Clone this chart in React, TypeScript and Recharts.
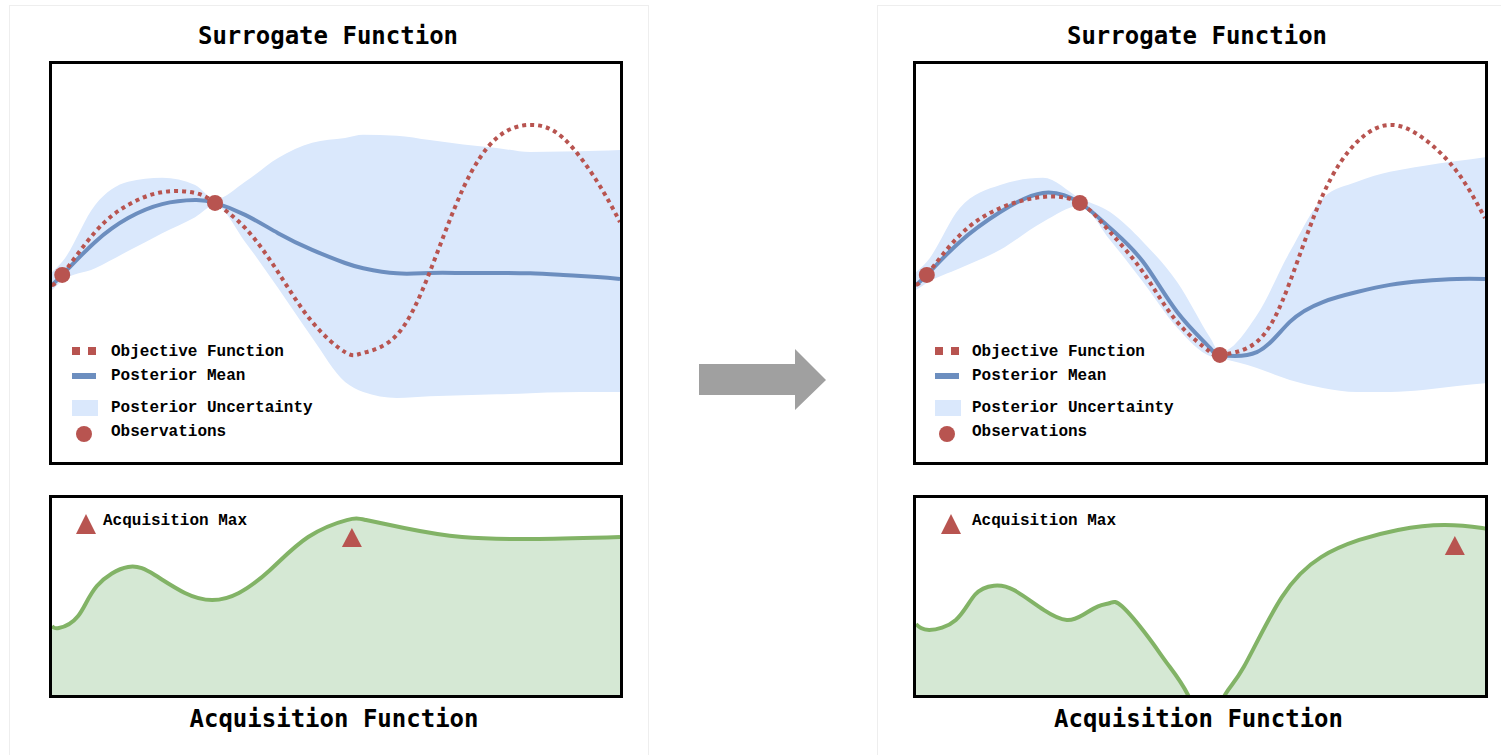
import { Area, ComposedChart, Line, Scatter, XAxis, YAxis } from "recharts";

// x runs 0..10 across each box, y runs 0..10 bottom to top

// before: 2 observations
const BEFORE_X = [0, 0.18, 0.76, 1.34, 1.94, 2.52, 2.87, 3.4, 3.98, 4.58, 5.16, 5.48, 6.07, 6.65, 7.24, 7.83, 8.42, 9.0, 9.6, 10];
const BEFORE_OBJECTIVE = [4.45, 4.7, 5.78, 6.46, 6.78, 6.76, 6.51, 5.88, 4.77, 3.52, 2.76, 2.74, 3.19, 4.77, 6.88, 8.14, 8.47, 8.14, 7.04, 6.03];
const BEFORE_MEAN = [4.45, 4.7, 5.53, 6.13, 6.48, 6.58, 6.51, 6.21, 5.75, 5.33, 5.0, 4.87, 4.74, 4.75, 4.75, 4.75, 4.74, 4.7, 4.65, 4.6];
const BEFORE_UPPER = [4.77, 5.03, 6.46, 7.04, 7.14, 6.96, 6.6, 7.04, 7.64, 8.02, 8.14, 8.22, 8.2, 8.09, 7.98, 7.89, 7.79, 7.8, 7.82, 7.84];
const BEFORE_LOWER = [4.32, 4.55, 4.87, 5.3, 5.75, 6.15, 6.45, 5.53, 4.37, 3.12, 2.01, 1.76, 1.61, 1.65, 1.68, 1.7, 1.73, 1.75, 1.76, 1.76];
const BEFORE_OBS_X = [0.18, 2.87];
const BEFORE_OBS_Y = [4.7, 6.51];
const BEFORE_ACQ_X = [0, 0.12, 0.46, 0.79, 1.34, 1.81, 2.34, 2.82, 3.29, 3.84, 4.51, 5.19, 5.53, 6.2, 7.22, 8.57, 10];
const BEFORE_ACQ = [3.5, 3.4, 4.01, 5.53, 6.5, 6.09, 5.18, 4.82, 5.18, 6.35, 8.02, 8.88, 8.88, 8.48, 8.02, 7.92, 8.02];
const BEFORE_MAX_X = [5.28];
const BEFORE_MAX_Y = [7.97];

// after: 3 observations
const AFTER_X = [0, 0.19, 0.77, 1.48, 2.23, 2.88, 3.41, 3.99, 4.59, 5.17, 5.34, 5.99, 6.57, 7.15, 7.75, 8.33, 8.91, 9.51, 10];
const AFTER_OBJECTIVE = [4.45, 4.7, 5.7, 6.38, 6.66, 6.51, 5.78, 4.77, 3.52, 2.76, 2.69, 3.02, 4.52, 6.71, 8.04, 8.47, 8.14, 7.29, 6.13];
const AFTER_MEAN = [4.45, 4.7, 5.53, 6.28, 6.76, 6.51, 5.88, 5.03, 3.77, 2.86, 2.69, 2.76, 3.52, 4.02, 4.27, 4.45, 4.55, 4.6, 4.6];
const AFTER_UPPER = [4.77, 5.03, 6.38, 6.96, 7.14, 6.63, 6.28, 5.53, 4.52, 3.12, 2.76, 3.69, 5.28, 6.63, 7.04, 7.29, 7.44, 7.56, 7.66];
const AFTER_LOWER = [4.32, 4.5, 4.87, 5.33, 6.03, 6.43, 5.58, 4.52, 3.37, 2.66, 2.61, 2.36, 2.06, 1.86, 1.76, 1.76, 1.81, 1.91, 1.98];
const AFTER_OBS_X = [0.19, 2.88, 5.34];
const AFTER_OBS_Y = [4.7, 6.51, 2.69];
const AFTER_ACQ_X = [0, 0.23, 0.7, 1.04, 1.37, 1.72, 2.25, 2.65, 2.93, 3.2, 3.41, 3.62, 4.08, 4.41, 4.78, 5.1, 5.43, 5.76, 6.43, 7.12, 7.79, 8.47, 9.28, 9.95, 10];
const AFTER_ACQ = [3.6, 3.3, 3.81, 5.1, 5.55, 5.33, 4.31, 3.81, 4.06, 4.5, 4.67, 4.5, 2.94, 1.62, 0, -1.5, 0, 1.42, 4.97, 7.0, 7.87, 8.38, 8.63, 8.48, 8.43];
const AFTER_MAX_X = [9.47];
const AFTER_MAX_Y = [7.56];

const RED = "#b85450";
const BLUE = "#6c8ebf";
const BAND = "#dae8fc";
const GREEN = "#82b366";
const GREEN_FILL = "#d5e8d4";
const TITLE_FONT = "'DejaVu Sans Mono', monospace";
const LABEL_FONT = "'Liberation Mono', monospace";

const surrogateRows = (xs: number[], obj: number[], mean: number[], up: number[], lo: number[]) =>
  xs.map((x, i) => ({ x, obj: obj[i], mean: mean[i], band: [lo[i], up[i]] }));
const points = (xs: number[], ys: number[]) => xs.map((x, i) => ({ x, y: ys[i] }));

const Dot = (p: any) => <circle cx={p.cx} cy={p.cy} r={8} fill={RED} />;
const Tri = (p: any) => (
  <polygon points={`${p.cx},${p.cy - 10} ${p.cx + 10},${p.cy + 9} ${p.cx - 10},${p.cy + 9}`} fill={RED} />
);

const MARGIN = { top: 0, right: 0, bottom: 0, left: 0 };

function Surrogate({ rows, obs, width }: { rows: any[]; obs: any[]; width: number }) {
  return (
    <ComposedChart width={width} height={398} data={rows} margin={MARGIN}>
      <XAxis type="number" dataKey="x" domain={[0, 10]} hide allowDataOverflow />
      <YAxis type="number" dataKey="y" domain={[0, 10]} hide allowDataOverflow />
      <Area dataKey="band" type="monotone" stroke="none" fill={BAND} fillOpacity={1} isAnimationActive={false} />
      <Line dataKey="mean" type="natural" stroke={BLUE} strokeWidth={4} dot={false} isAnimationActive={false} />
      <Line dataKey="obj" type="natural" stroke={RED} strokeWidth={4} strokeDasharray="4 4" dot={false} isAnimationActive={false} />
      <Scatter data={obs} dataKey="y" shape={Dot} isAnimationActive={false} />
    </ComposedChart>
  );
}

function Acquisition({ rows, max, width }: { rows: any[]; max: any[]; width: number }) {
  return (
    <ComposedChart width={width} height={197} data={rows} margin={MARGIN}>
      <XAxis type="number" dataKey="x" domain={[0, 10]} hide allowDataOverflow />
      <YAxis type="number" dataKey="y" domain={[0, 10]} hide allowDataOverflow />
      <Area dataKey="y" type="natural" stroke={GREEN} strokeWidth={4} fill={GREEN_FILL} fillOpacity={1} isAnimationActive={false} />
      <Scatter data={max} dataKey="y" shape={Tri} isAnimationActive={false} />
    </ComposedChart>
  );
}

const abs = (left: number, top: number, extra: any = {}) => ({ position: "absolute" as const, left, top, ...extra });

function Label({ x, y, text, size = 16, font = LABEL_FONT, center = false }: any) {
  return (
    <div
      style={abs(x, y, {
        fontFamily: font,
        fontWeight: "bold",
        fontSize: size,
        lineHeight: 1,
        whiteSpace: "nowrap",
        color: "#000",
        transform: center ? "translate(-50%, -50%)" : "translate(0, -50%)",
      })}
    >
      {text}
    </div>
  );
}

function Panel({ boxLeft, width, textX, symX, acqTextX, acqSymX, titleX, rows, obs, acqRows, max }: any) {
  const outer = width + 6;
  return (
    <>
      <Label x={titleX} y={36} text="Surrogate Function" size={24} font={TITLE_FONT} center />
      <div style={abs(boxLeft, 61, { width: outer - 6, height: 398, border: "3px solid #000" })} />
      <div style={abs(boxLeft + 3, 64)}>
        <Surrogate rows={rows} obs={obs} width={width} />
      </div>
      <svg style={abs(symX, 340)} width={30} height={104}>
        <line x1={0} y1={11} x2={24} y2={11} stroke={RED} strokeWidth={8} strokeDasharray="8 8" />
        <line x1={0} y1={36} x2={24} y2={36} stroke={BLUE} strokeWidth={6} />
        <rect x={0} y={60} width={26} height={16} fill={BAND} />
        <circle cx={12} cy={94} r={8} fill={RED} />
      </svg>
      <Label x={textX} y={352} text="Objective Function" />
      <Label x={textX} y={376} text="Posterior Mean" />
      <Label x={textX} y={408} text="Posterior Uncertainty" />
      <Label x={textX} y={432} text="Observations" />

      <div style={abs(boxLeft, 495, { width: outer - 6, height: 197, border: "3px solid #000" })} />
      <div style={abs(boxLeft + 3, 498)}>
        <Acquisition rows={acqRows} max={max} width={width} />
      </div>
      <svg style={abs(acqSymX, 513)} width={22} height={22}>
        <polygon points="11,1 21,21 1,21" fill={RED} />
      </svg>
      <Label x={acqTextX} y={521} text="Acquisition Max" />
      <Label x={boxLeft + outer / 2 - 2} y={719} text="Acquisition Function" size={24} font={TITLE_FONT} center />
    </>
  );
}

export default function App() {
  return (
    <div style={{ position: "absolute", left: 0, top: 0, width: 1501, height: 755, background: "#fff", overflow: "hidden" }}>
      <div style={abs(9, 5, { width: 638, height: 760, border: "1px solid #eeeeee" })} />
      <div style={abs(877, 5, { width: 640, height: 760, border: "1px solid #eeeeee" })} />
      <Panel
        boxLeft={49}
        width={568}
        textX={111}
        symX={72}
        acqTextX={103}
        acqSymX={75}
        titleX={328}
        rows={surrogateRows(BEFORE_X, BEFORE_OBJECTIVE, BEFORE_MEAN, BEFORE_UPPER, BEFORE_LOWER)}
        obs={points(BEFORE_OBS_X, BEFORE_OBS_Y)}
        acqRows={points(BEFORE_ACQ_X, BEFORE_ACQ)}
        max={points(BEFORE_MAX_X, BEFORE_MAX_Y)}
      />
      <Panel
        boxLeft={913}
        width={569}
        textX={972}
        symX={935}
        acqTextX={972}
        acqSymX={940}
        titleX={1197}
        rows={surrogateRows(AFTER_X, AFTER_OBJECTIVE, AFTER_MEAN, AFTER_UPPER, AFTER_LOWER)}
        obs={points(AFTER_OBS_X, AFTER_OBS_Y)}
        acqRows={points(AFTER_ACQ_X, AFTER_ACQ)}
        max={points(AFTER_MAX_X, AFTER_MAX_Y)}
      />
      <svg style={abs(690, 340)} width={150} height={80}>
        <polygon points="9,24 105,24 105,9 136,40 105,70 105,55 9,55" fill="#a0a0a0" />
      </svg>
    </div>
  );
}
